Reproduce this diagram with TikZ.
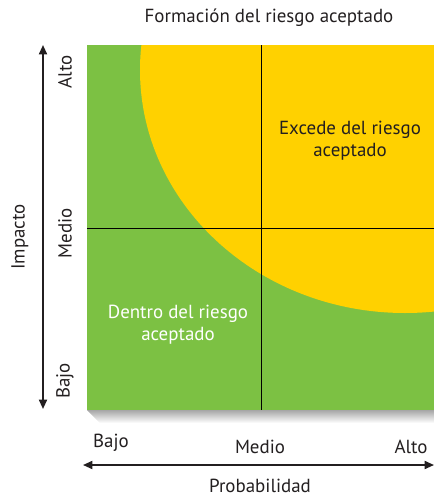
\documentclass[tikz,border=0pt]{standalone}
\usepackage{fontspec}
\setmainfont{PT Sans}
\usepackage{xcolor}
\definecolor{green_ok}{RGB}{124,193,67}
\definecolor{yellow_risk}{RGB}{255,209,0}
\definecolor{text_dark}{RGB}{35,31,32}
\usetikzlibrary{arrows.meta,positioning}

\begin{document}
\begin{tikzpicture}
[
    x = 0.75pt, y = -0.75pt,
    label/.style = {font = \fontsize{14.2}{16.5}\selectfont, text = text_dark, inner sep = 0pt},
    axis/.style = {line width = 1.3pt, text_dark, {Triangle[length=7pt,width=6pt]}-{Triangle[length=7pt,width=6pt]}},
    grid line/.style = {line width = 0.6pt, black}
]
\useasboundingbox (0,0) rectangle (434,496);

% shadow under the matrix
\shade[top color = gray!70, bottom color = white] (87,410) -- (434,410) -- (434,423) -- (100,423) -- cycle;

% matrix
\begin{scope}
	\clip (87,45) rectangle (434,410);
	\fill[green_ok] (87,45) rectangle (434,410);
	\fill[yellow_risk] (405,70) ellipse [x radius = 265, y radius = 243];
\end{scope}
\coordinate (top) at (261,45);
\coordinate (bottom) at (261,410);
\coordinate (left) at (87,228);
\coordinate (right) at (434,228);
\draw[grid line] (top) -- (bottom);
\draw[grid line] (left) -- (right);

% axes
\coordinate (imp_low) at (43,409);
\coordinate (imp_high) at (43,45);
\coordinate (prob_low) at (83,465);
\coordinate (prob_high) at (434,465);
\draw[axis] (imp_low) -- (imp_high);
\draw[axis] (prob_low) -- (prob_high);

% texts
\node[label] (title) at (269,18) {Formación del riesgo aceptado};
\node[label, align = center] (exceeds) at (350,141) {Excede del riesgo\\aceptado};
\node[label, align = center, text = white] (within) at (178,325) {Dentro del riesgo\\aceptado};
\node[label, rotate = 90] (impact) at (20,237) {Impacto};
\node[label, rotate = 90] (imp_alto) at (65,72) {Alto};
\node[label, rotate = 90] (imp_medio) at (65,233) {Medio};
\node[label, rotate = 90] (imp_bajo) at (65,381) {Bajo};
\node[label] (prob_bajo) at (111,443) {Bajo};
\node[label] (prob_medio) at (260,447) {Medio};
\node[label] (prob_alto) at (411,447) {Alto};
\node[label] (prob) at (260,486) {Probabilidad};
\end{tikzpicture}
\end{document}
